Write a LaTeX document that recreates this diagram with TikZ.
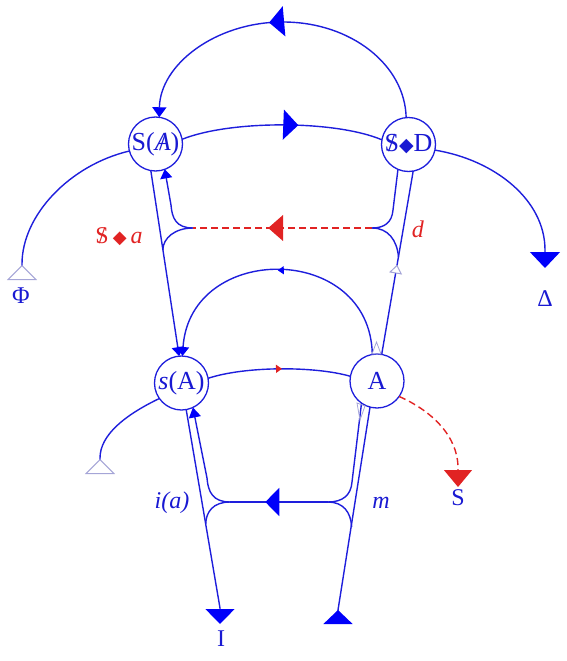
\documentclass[tikz,border=0pt]{standalone}
\usepackage{fontspec}
\setmainfont{Liberation Serif}
\newfontfamily\djv{DejaVu Sans}
\usetikzlibrary{arrows.meta,decorations.markings,calc}
\definecolor{lnblue}{RGB}{30,30,220}
\definecolor{tipblue}{RGB}{0,0,250}
\definecolor{txtblue}{RGB}{25,25,210}
\definecolor{lacred}{RGB}{225,35,35}
\definecolor{lav}{RGB}{165,165,215}
\newcommand{\barS}{\ooalign{S\cr\hidewidth/\hidewidth\cr}}
\newcommand{\barA}{\ooalign{\itshape A\cr\hidewidth/\hidewidth\cr}}
\newcommand{\dmd}[1]{{\djv\fontsize{#1}{#1}\selectfont ◆}}
\begin{document}
\begin{tikzpicture}[x=1pt,y=-1pt,
  circ/.style={circle,draw=lnblue,line width=1.3pt,minimum size=54pt,inner sep=0pt,outer sep=0pt,text=txtblue,font=\fontsize{26}{28}\selectfont},
  ln/.style={draw=lnblue,line width=1.4pt},
  rdash/.style={draw=lacred,line width=1.4pt,dash pattern=on 7pt off 4pt},
  lbl/.style={text=txtblue,font=\fontsize{24}{26}\selectfont,inner sep=0pt},
  lblred/.style={text=lacred,font=\fontsize{24}{26}\selectfont,inner sep=0pt},
  midarrow/.style 2 args={postaction={decorate},decoration={markings,mark=at position #1 with {\arrow{#2}}}}]
\useasboundingbox (0,0) rectangle (566,661);
% nodes
\node[circ] (SA) at (155.5,144) {S(\barA)};
\node[circ] (SD) at (408.5,144.5) {\barS\dmd{19}D};
\node[circ] (sA) at (181.5,383) {\textit{s}(A)};
\node[circ] (A) at (377,381) {A};
% free ends and junctions
\coordinate (Phi) at (22,280);
\coordinate (Delta) at (545,268);
\coordinate (Lt) at (100,474);
\coordinate (Sout) at (458,487);
\coordinate (Iout) at (220,624);
\coordinate (Min) at (338,624);
\coordinate (j1) at (193,228);
\coordinate (j2) at (372,228);
\coordinate (j3) at (230,502);
\coordinate (j4) at (328,502);
\coordinate (k1) at (162.8,250);
\coordinate (k2) at (398.5,257);
\coordinate (k3) at (205.7,524);
\coordinate (k4) at (351.6,527);
% top arc
\draw[ln,-{Triangle[width=14pt,length=10pt,color=tipblue]},
  midarrow={0.54}{Triangle[width=30pt,length=15pt,color=tipblue]}]
  (SD.95) .. controls (405,65) and (351,22) .. (283,22) .. controls (215,22) and (160,65) .. (SA.82);
% S(A) -> S<>D
\draw[ln,midarrow={0.58}{Triangle[width=30pt,length=15pt,color=tipblue]}]
  (SA.10) .. controls (230,120) and (335,120) .. (SD.170);
% Phi
\draw[ln,-{Triangle[reversed,fill=white,width=30pt,length=15pt,color=lav,line width=1pt]}]
  (SA.195) .. controls (70,165) and (22,215) .. (22,264) -- (Phi);
% Delta
\draw[ln,-{Triangle[width=30pt,length=16pt,color=tipblue]}]
  (SD.-12) .. controls (495,160) and (545,200) .. (545,250) -- (Delta);
% S(A) -> s(A)
\draw[ln,-{Triangle[width=12pt,length=9pt,color=tipblue]}] (SA.-100) -- (sA.95);
% upper left hook
\draw[ln,-{Triangle[width=12pt,length=9pt,color=tipblue]}]
  (j1) .. controls (176,228) and (172,218) .. (171,205) -- (SA.-70);
\draw[ln] (j1) .. controls (175,228) and (163,238) .. (k1);
% red dashed upper
\draw[rdash,midarrow={0.58}{Triangle[width=26pt,length=15pt,color=lacred]}] (j2) -- (j1);
% upper right hook
\draw[ln] (SD.-113) -- (393,210) .. controls (392,222) and (385,228) .. (j2);
\draw[ln] (j2) .. controls (388,228) and (397,240) .. (k2);
% A -> S<>D
\draw[ln,midarrow={0.49}{Triangle[fill=white,width=13pt,length=9pt,color=lav,line width=1pt]}]
  (A.80) -- (SD.-80);
% middle arc A -> s(A)
\draw[ln,-{Triangle[width=12pt,length=9pt,color=tipblue]},
  midarrow={0.5}{Triangle[width=8pt,length=6pt,color=tipblue]}]
  (A.100) .. controls (370,242) and (190,242) .. (sA.88);
% lower arc s(A) -> A
\draw[ln,midarrow={0.52}{Triangle[width=8pt,length=6pt,color=lacred]}]
  (sA.10) .. controls (245,366) and (315,366) .. (A.170);
% left lower curve
\draw[ln,-{Triangle[reversed,fill=white,width=30pt,length=15pt,color=lav,line width=1pt]}]
  (sA.215) .. controls (125,415) and (100,435) .. (100,458) -- (Lt);
% red dashed to S
\draw[rdash,-{Triangle[width=28pt,length=17pt,color=lacred]}]
  (A.-35) .. controls (430,410) and (458,435) .. (458,468) -- (Sout);
% to I
\draw[ln,-{Triangle[width=29pt,length=15pt,color=tipblue]}] (sA.280) -- (220,608) -- (Iout);
% lower left hook
\draw[ln,-{Triangle[width=12pt,length=10pt,color=tipblue]}]
  (j3) .. controls (213,502) and (208,492) .. (207,478) -- (sA.295);
\draw[ln] (j3) .. controls (213,502) and (206,512) .. (k3);
% horizontal
\draw[ln,midarrow={0.64}{Triangle[width=28pt,length=14pt,color=tipblue]}] (j4) -- (j3);
% lower right hook
\draw[ln] (A.-125) -- (352,482) .. controls (351,495) and (343,502) .. (j4);
\draw[ln] (j4) .. controls (343,502) and (351,512) .. (k4);
% from bottom right into A
\draw[ln,{Triangle[reversed,width=29pt,length=14pt,color=tipblue]}-] (Min) -- (338,610) -- (A.-105);
% faint marks at A
\draw[lav,line width=0.8pt] (376.5,342) -- (372,354) -- (381,354) -- cycle;
\draw[lav,line width=0.8pt] (357,403) -- (365,406) -- (360,420) -- cycle;
% labels
\node[lblred] (lsa) at (119,237) {\barS\,\dmd{18}\,\textit{a}};
\node[lblred] (ld) at (418,229) {\textit{d}};
\node[lbl] (li) at (172,503) {\textit{i(a)}};
\node[lbl] (lm) at (381,503) {\textit{m}};
\node[lbl] (lPhi) at (21,296) {Φ};
\node[lbl] (lDelta) at (545,299) {Δ};
\node[lbl] (lS) at (458,498) {S};
\node[lbl] (lI) at (221,639) {I};
\end{tikzpicture}
\end{document}
